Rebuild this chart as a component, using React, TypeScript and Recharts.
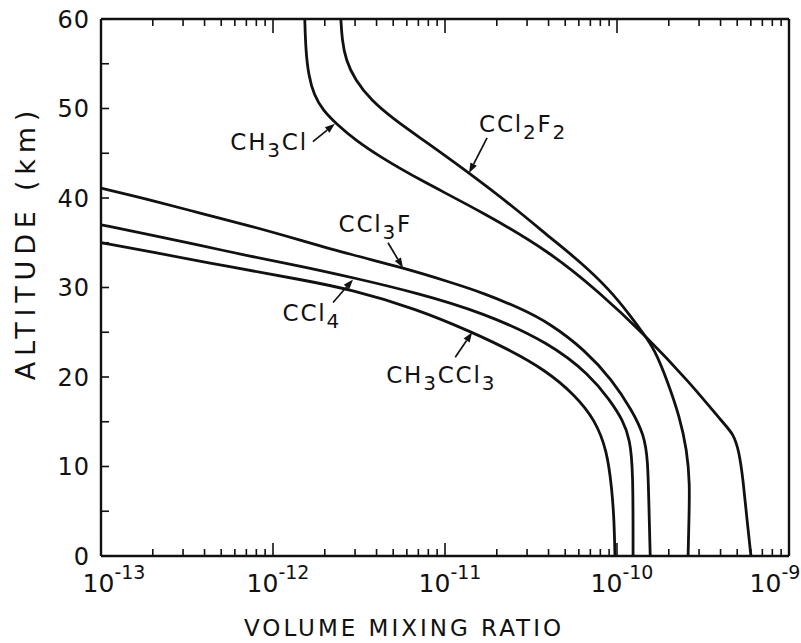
import { LineChart, Line, XAxis, YAxis, ReferenceDot } from 'recharts'

interface Point {
  ratio: number
  alt: number
}

// altitude profiles (volume mixing ratio vs km)
const ch3cl: Point[] = [
  { ratio: 1.53e-12, alt: 60 },
  { ratio: 1.55e-12, alt: 56.5 },
  { ratio: 1.61e-12, alt: 53.7 },
  { ratio: 1.73e-12, alt: 51.5 },
  { ratio: 1.95e-12, alt: 49.8 },
  { ratio: 2.36e-12, alt: 48.2 },
  { ratio: 3.0e-12, alt: 46.5 },
  { ratio: 4.19e-12, alt: 44.6 },
  { ratio: 7.16e-12, alt: 42.0 },
  { ratio: 1.66e-11, alt: 38.4 },
  { ratio: 4.07e-11, alt: 34.0 },
  { ratio: 7.96e-11, alt: 29.4 },
  { ratio: 1.42e-10, alt: 24.9 },
  { ratio: 2.65e-10, alt: 19.4 },
  { ratio: 4.25e-10, alt: 14.6 },
  { ratio: 4.72e-10, alt: 13.7 },
  { ratio: 5.12e-10, alt: 11.8 },
  { ratio: 5.41e-10, alt: 8.5 },
  { ratio: 5.7e-10, alt: 4.0 },
  { ratio: 6.01e-10, alt: 0 },
]

const ccl2f2: Point[] = [
  { ratio: 2.48e-12, alt: 60 },
  { ratio: 2.52e-12, alt: 57.7 },
  { ratio: 2.65e-12, alt: 55.4 },
  { ratio: 3.0e-12, alt: 53.2 },
  { ratio: 3.72e-12, alt: 50.9 },
  { ratio: 5.12e-12, alt: 48.7 },
  { ratio: 7.45e-12, alt: 46.5 },
  { ratio: 1.36e-11, alt: 42.9 },
  { ratio: 2.62e-11, alt: 38.7 },
  { ratio: 4.07e-11, alt: 35.6 },
  { ratio: 6.27e-11, alt: 32.7 },
  { ratio: 9.1e-11, alt: 29.7 },
  { ratio: 1.19e-10, alt: 26.9 },
  { ratio: 1.42e-10, alt: 24.9 },
  { ratio: 1.66e-10, alt: 23.0 },
  { ratio: 1.95e-10, alt: 19.7 },
  { ratio: 2.32e-10, alt: 15.5 },
  { ratio: 2.55e-10, alt: 11.8 },
  { ratio: 2.65e-10, alt: 8.2 },
  { ratio: 2.62e-10, alt: 4.0 },
  { ratio: 2.59e-10, alt: 0 },
]

const ccl3f: Point[] = [
  { ratio: 1.0e-13, alt: 41.1 },
  { ratio: 1.93e-13, alt: 39.8 },
  { ratio: 3.77e-13, alt: 38.3 },
  { ratio: 7.35e-13, alt: 36.9 },
  { ratio: 1.44e-12, alt: 35.3 },
  { ratio: 2.81e-12, alt: 33.7 },
  { ratio: 5.7e-12, alt: 32.2 },
  { ratio: 1.07e-11, alt: 30.6 },
  { ratio: 1.66e-11, alt: 29.4 },
  { ratio: 2.73e-11, alt: 27.7 },
  { ratio: 4.07e-11, alt: 26.0 },
  { ratio: 6.52e-11, alt: 23.0 },
  { ratio: 9.35e-11, alt: 19.7 },
  { ratio: 1.22e-10, alt: 16.3 },
  { ratio: 1.44e-10, alt: 13.5 },
  { ratio: 1.51e-10, alt: 10.7 },
  { ratio: 1.53e-10, alt: 6.3 },
  { ratio: 1.56e-10, alt: 0 },
]

const ccl4: Point[] = [
  { ratio: 1.0e-13, alt: 37.0 },
  { ratio: 1.93e-13, alt: 35.9 },
  { ratio: 3.77e-13, alt: 34.7 },
  { ratio: 7.35e-13, alt: 33.5 },
  { ratio: 1.44e-12, alt: 32.4 },
  { ratio: 2.92e-12, alt: 31.1 },
  { ratio: 6.87e-12, alt: 29.4 },
  { ratio: 1.66e-11, alt: 27.2 },
  { ratio: 4.07e-11, alt: 23.8 },
  { ratio: 6.97e-11, alt: 20.2 },
  { ratio: 9.1e-11, alt: 17.4 },
  { ratio: 1.08e-10, alt: 15.2 },
  { ratio: 1.19e-10, alt: 13.0 },
  { ratio: 1.24e-10, alt: 9.6 },
  { ratio: 1.24e-10, alt: 0 },
]

const ch3ccl3: Point[] = [
  { ratio: 1.0e-13, alt: 35.0 },
  { ratio: 1.93e-13, alt: 34.0 },
  { ratio: 5.62e-13, alt: 32.3 },
  { ratio: 1.44e-12, alt: 30.9 },
  { ratio: 2.81e-12, alt: 29.8 },
  { ratio: 6.87e-12, alt: 27.6 },
  { ratio: 1.44e-11, alt: 25.0 },
  { ratio: 2.39e-11, alt: 23.0 },
  { ratio: 3.81e-11, alt: 20.8 },
  { ratio: 5.7e-11, alt: 18.0 },
  { ratio: 7.45e-11, alt: 15.2 },
  { ratio: 8.75e-11, alt: 11.8 },
  { ratio: 9.35e-11, alt: 7.4 },
  { ratio: 9.62e-11, alt: 4.0 },
  { ratio: 9.73e-11, alt: 0 },
]

const series = [
  { name: 'CH3Cl', data: ch3cl },
  { name: 'CCl2F2', data: ccl2f2 },
  { name: 'CCl3F', data: ccl3f },
  { name: 'CCl4', data: ccl4 },
  { name: 'CH3CCl3', data: ch3ccl3 },
]

// curve labels: text pieces (1 = subscript) and the point the arrow touches
const labels = [
  { key: 'CH3Cl', parts: [['CH', 0], ['3', 1], ['Cl', 0]], ratio: 2.29e-12, alt: 48.3 },
  { key: 'CCl2F2', parts: [['CCl', 0], ['2', 1], ['F', 0], ['2', 1]], ratio: 1.38e-11, alt: 42.8 },
  { key: 'CCl3F', parts: [['CCl', 0], ['3', 1], ['F', 0]], ratio: 5.7e-12, alt: 32.2 },
  { key: 'CCl4', parts: [['CCl', 0], ['4', 1]], ratio: 2.92e-12, alt: 30.9 },
  { key: 'CH3CCl3', parts: [['CH', 0], ['3', 1], ['CCl', 0], ['3', 1]], ratio: 1.44e-11, alt: 25.0 },
]

const decades = [-13, -12, -11, -10, -9]
const altTicks = [0, 5, 10, 15, 20, 25, 30, 35, 40, 45, 50, 55, 60]

const xTicks = decades
  .slice(0, -1)
  .flatMap(d => [1, 2, 3, 4, 5, 6, 7, 8, 9].map(k => k * Math.pow(10, d)))
  .concat(Math.pow(10, decades[decades.length - 1]))

// pixel offsets of arrow tail and text, relative to the arrow tip
const labelLayout: Record<string, { tail: [number, number]; text: [number, number]; anchor: string }> = {
  CH3Cl: { tail: [-22, 18], text: [-27, 26], anchor: 'end' },
  CCl2F2: { tail: [18, -35], text: [10, -41], anchor: 'start' },
  CCl3F: { tail: [-15, -25], text: [9, -36], anchor: 'end' },
  CCl4: { tail: [-20, 23], text: [-12, 42], anchor: 'end' },
  CH3CCl3: { tail: [-17, 25], text: [-86, 51], anchor: 'start' },
}

const INK = '#111'
const FONT = 'DejaVu Sans'

const isDecade = (v: number) => {
  const lg = Math.log10(v)
  return Math.abs(lg - Math.round(lg)) < 1e-6
}

const BottomTick = (props: any) => {
  const { x, y, payload } = props
  const v = payload.value
  const major = isDecade(v)
  const exp = Math.round(Math.log10(v))
  let shift = 5
  if (exp === -13) shift = 13
  if (exp === -9) shift = -14
  return (
    <g>
      <line x1={x} x2={x} y1={y} y2={y - (major ? 13 : 7)} stroke={INK} strokeWidth={1.6} />
      {major && (
        <text x={x + shift} y={y + 36} textAnchor="middle" fontSize={25} fill={INK} fontFamily={FONT}>
          10
          <tspan dy={-13} fontSize={19}>
            {'-' + Math.abs(exp)}
          </tspan>
        </text>
      )}
    </g>
  )
}

const TopTick = (props: any) => {
  const { x, y, payload } = props
  const major = isDecade(payload.value)
  return <line x1={x} x2={x} y1={y} y2={y + (major ? 14 : 7)} stroke={INK} strokeWidth={1.6} />
}

const LeftTick = (props: any) => {
  const { x, y, payload } = props
  return (
    <g>
      <line x1={x} x2={x + 8} y1={y} y2={y} stroke={INK} strokeWidth={1.6} />
      {payload.value % 10 === 0 && (
        <text x={x - 11} y={y} dy="0.36em" textAnchor="end" fontSize={24} fill={INK} fontFamily={FONT} letterSpacing={1}>
          {payload.value}
        </text>
      )}
    </g>
  )
}

const RightTick = (props: any) => {
  const { x, y } = props
  return <line x1={x} x2={x - 8} y1={y} y2={y} stroke={INK} strokeWidth={1.6} />
}

const Annotation = (props: any) => {
  const { cx, cy, item } = props
  const lay = labelLayout[item.key]
  const tx = cx + lay.tail[0]
  const ty = cy + lay.tail[1]
  const dx = cx - tx
  const dy = cy - ty
  const len = Math.sqrt(dx * dx + dy * dy)
  const ux = dx / len
  const uy = dy / len
  const bx = cx - ux * 10
  const by = cy - uy * 10
  const head = `${cx},${cy} ${bx - uy * 3.6},${by + ux * 3.6} ${bx + uy * 3.6},${by - ux * 3.6}`
  return (
    <g>
      <line x1={tx} y1={ty} x2={bx} y2={by} stroke={INK} strokeWidth={1.7} />
      <polygon points={head} fill={INK} />
      <text
        x={cx + lay.text[0]}
        y={cy + lay.text[1]}
        textAnchor={lay.anchor}
        fontSize={23}
        fill={INK}
        fontFamily={FONT}
        letterSpacing={1.8}
      >
        {item.parts.map((p: [string, number], i: number) => {
          const prevSub = i > 0 && item.parts[i - 1][1] === 1
          const dyv = p[1] === 1 ? 7 : prevSub ? -7 : 0
          return (
            <tspan key={i} dy={dyv} fontSize={p[1] === 1 ? 20 : 23}>
              {p[0]}
            </tspan>
          )
        })}
      </text>
    </g>
  )
}

export default function App() {
  return (
    <div style={{ position: 'absolute', left: 0, top: 0, background: '#fff' }}>
      <LineChart width={801} height={643} margin={{ top: 0, right: 0, bottom: 0, left: 0 }} style={{ fontFamily: FONT }}>
        <XAxis
          dataKey="ratio"
          type="number"
          scale="log"
          domain={[1e-13, 1e-9]}
          allowDataOverflow
          ticks={xTicks}
          interval={0}
          height={87}
          tickSize={0}
          tickMargin={0}
          tick={<BottomTick />}
          axisLine={{ stroke: INK, strokeWidth: 2.4 }}
          label={{
            content: (p: any) => {
              const vb = p.viewBox
              return (
                <text
                  x={vb.x + vb.width / 2 - 41}
                  y={vb.y + 80}
                  textAnchor="middle"
                  fontSize={23}
                  fill={INK}
                  fontFamily={FONT}
                  letterSpacing={3}
                >
                  VOLUME MIXING RATIO
                </text>
              )
            },
          }}
        />
        <XAxis
          xAxisId="top"
          orientation="top"
          dataKey="ratio"
          type="number"
          scale="log"
          domain={[1e-13, 1e-9]}
          allowDataOverflow
          ticks={xTicks}
          interval={0}
          height={19}
          tickSize={0}
          tickMargin={0}
          tick={<TopTick />}
          axisLine={{ stroke: INK, strokeWidth: 2.4 }}
        />
        <YAxis
          type="number"
          domain={[0, 60]}
          ticks={altTicks}
          interval={0}
          width={101}
          tickSize={0}
          tickMargin={0}
          tick={<LeftTick />}
          axisLine={{ stroke: INK, strokeWidth: 2.4 }}
          label={{
            content: (p: any) => {
              const vb = p.viewBox
              const cx = 25
              const cy = vb.y + vb.height / 2 - 45
              return (
                <text
                  x={cx}
                  y={cy}
                  transform={`rotate(-90 ${cx} ${cy})`}
                  textAnchor="middle"
                  dominantBaseline="central"
                  fontSize={27}
                  fill={INK}
                  fontFamily={FONT}
                  letterSpacing={5.8}
                >
                  ALTITUDE (km)
                </text>
              )
            },
          }}
        />
        <YAxis
          yAxisId="right"
          orientation="right"
          type="number"
          domain={[0, 60]}
          ticks={altTicks}
          interval={0}
          width={12}
          tickSize={0}
          tickMargin={0}
          tick={<RightTick />}
          axisLine={{ stroke: INK, strokeWidth: 2.4 }}
        />
        {series.map(s => (
          <Line
            key={s.name}
            name={s.name}
            data={s.data}
            dataKey="alt"
            type="basis"
            stroke={INK}
            strokeWidth={2.8}
            dot={false}
            activeDot={false}
            isAnimationActive={false}
          />
        ))}
        {labels.map(l => (
          <ReferenceDot
            key={l.key}
            x={l.ratio}
            y={l.alt}
            r={0}
            ifOverflow="visible"
            shape={(p: any) => <Annotation cx={p.cx} cy={p.cy} item={l} />}
          />
        ))}
      </LineChart>
    </div>
  )
}
